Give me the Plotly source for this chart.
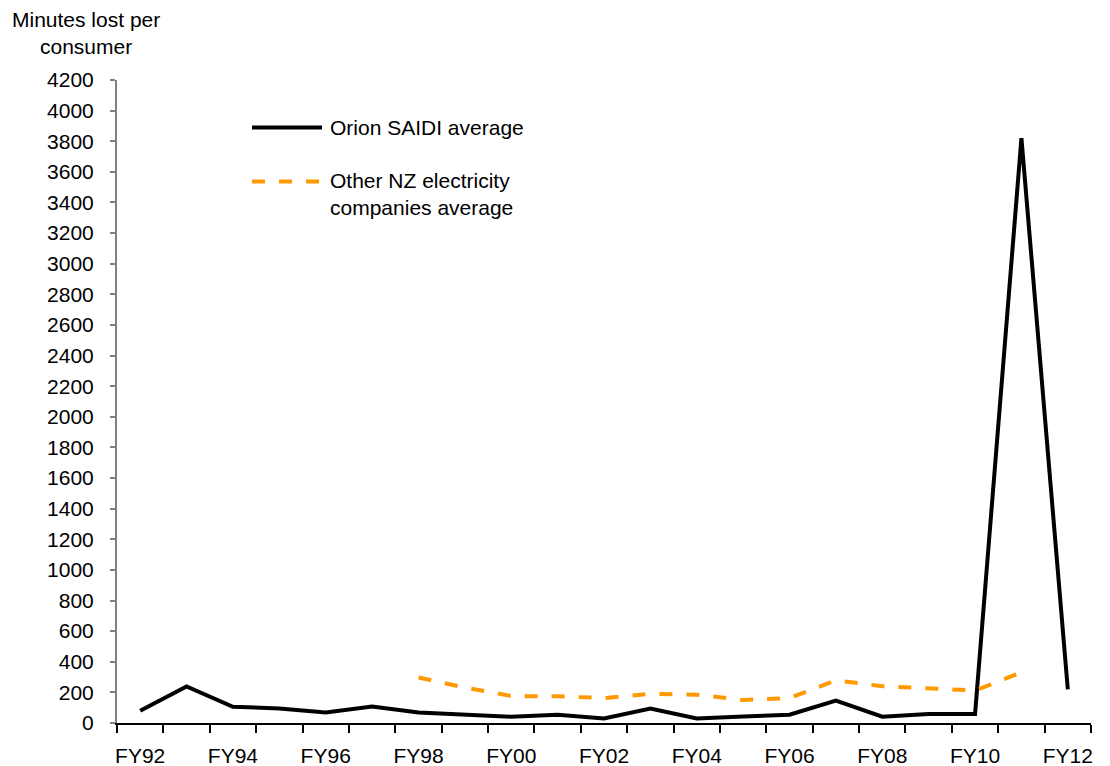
import plotly.graph_objects as go

# Financial years on the category axis
categories = ["FY92", "FY93", "FY94", "FY95", "FY96", "FY97", "FY98", "FY99",
              "FY00", "FY01", "FY02", "FY03", "FY04", "FY05", "FY06", "FY07",
              "FY08", "FY09", "FY10", "FY11", "FY12"]

# Minutes lost per consumer
orion_saidi = [80, 239, 106, 95, 69, 108, 69, 54, 41, 54, 30, 95, 30, 43,
               54, 146, 41, 59, 59, 3820, 220]
other_nz = [None, None, None, None, None, None, 297, 232, 176, 174, 163, 190,
            185, 150, 163, 279, 240, 227, 212, 330, None]

# Only every second year is labelled
tick_text = [c if i % 2 == 0 else "" for i, c in enumerate(categories)]
y_ticks = list(range(0, 4201, 200))

FONT = "Liberation Sans, Arial, sans-serif"
FS = 21
ORANGE = "#FF9900"

W, H = 1110, 766
L, R, T, B = 117, 19, 80, 43
PW, PH = W - L - R, H - T - B


def px_x(px):
    return (px - L) / PW


def px_y(py):
    return (H - B - py) / PH


fig = go.Figure()
fig.add_trace(go.Scatter(
    x=categories, y=orion_saidi, mode="lines", name="Orion SAIDI average",
    line=dict(color="black", width=4), connectgaps=False))
fig.add_trace(go.Scatter(
    x=categories, y=other_nz, mode="lines",
    name="Other NZ electricity companies average",
    line=dict(color=ORANGE, width=4, dash="13px,14px"), connectgaps=False))

# Hand-drawn legend inside the plot area
legend_shapes = [
    dict(type="line", xref="paper", yref="paper",
         x0=px_x(252), x1=px_x(322), y0=px_y(127.5), y1=px_y(127.5),
         line=dict(color="black", width=4)),
    dict(type="line", xref="paper", yref="paper",
         x0=px_x(252), x1=px_x(322), y0=px_y(181.5), y1=px_y(181.5),
         line=dict(color=ORANGE, width=4, dash="13px,14px")),
]

annotations = [
    dict(text="Minutes lost per<br>consumer", xref="paper", yref="paper",
         x=px_x(86), y=px_y(33), xanchor="center", yanchor="middle",
         align="center", showarrow=False,
         font=dict(family=FONT, size=FS, color="black")),
    dict(text="Orion SAIDI average", xref="paper", yref="paper",
         x=px_x(328), y=px_y(127.5), xanchor="left", yanchor="middle",
         align="left", showarrow=False,
         font=dict(family=FONT, size=FS, color="black")),
    dict(text="Other NZ electricity<br>companies average", xref="paper",
         yref="paper", x=px_x(328), y=px_y(194), xanchor="left",
         yanchor="middle", align="left", showarrow=False,
         font=dict(family=FONT, size=FS, color="black")),
]

fig.update_layout(
    width=W, height=H,
    margin=dict(l=L, r=R, t=T, b=B, pad=0),
    paper_bgcolor="white", plot_bgcolor="white",
    showlegend=False,
    font=dict(family=FONT, size=FS, color="black"),
    shapes=legend_shapes,
    annotations=annotations,
    xaxis=dict(
        type="category", categoryorder="array", categoryarray=categories,
        tickmode="array", tickvals=categories, ticktext=tick_text,
        tickson="boundaries", ticks="outside", ticklen=8, tickwidth=1.5,
        tickcolor="black", showline=True, linecolor="black", linewidth=2,
        showgrid=False, zeroline=False, ticklabelstandoff=13,
        tickangle=0, automargin=False,
        tickfont=dict(family=FONT, size=FS, color="black"),
        range=[-0.5, len(categories) - 0.5],
    ),
    yaxis=dict(
        range=[0, 4200], tickmode="array", tickvals=y_ticks,
        ticks="outside", ticklen=5, tickwidth=1.5, tickcolor="#808080",
        showline=True, linecolor="#808080", linewidth=2,
        showgrid=False, zeroline=False, ticklabelstandoff=12,
        automargin=False,
        tickfont=dict(family=FONT, size=FS, color="black"),
    ),
)

fig.write_html("out.html")
